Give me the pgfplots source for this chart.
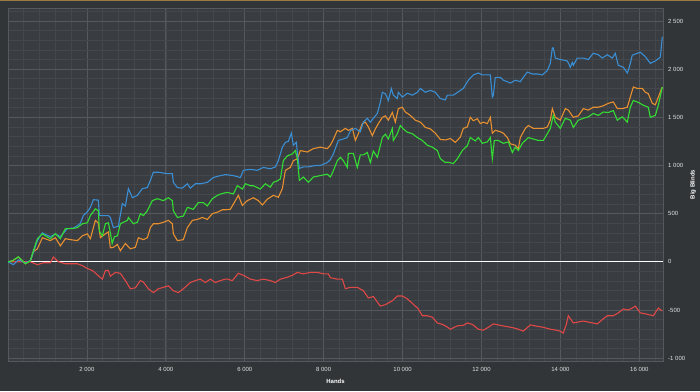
\documentclass[border=0pt]{standalone}
\usepackage{pgfplots}
\pgfplotsset{compat=1.18}
\usepackage{fontspec}
\setmainfont{Liberation Sans}
\definecolor{bgout}{HTML}{323538}
\definecolor{bgin}{HTML}{393C40}
\definecolor{gmaj}{HTML}{55595E}
\definecolor{gmin}{HTML}{44484C}
\definecolor{cblue}{HTML}{3A8ED4}
\definecolor{corange}{HTML}{E8902F}
\definecolor{cgreen}{HTML}{33DD33}
\definecolor{cred}{HTML}{E04848}
\definecolor{ctext}{HTML}{E0E0E0}
\definecolor{ctop}{HTML}{9C7A43}
\begin{document}
\begin{tikzpicture}[x=1bp,y=1bp]
\fill[bgout] (-8,-30) rectangle (692,361);
\useasboundingbox (-8,-30) rectangle (692,361);
\fill[ctop] (-8,359.8) rectangle (692,361);
\begin{axis}[
  at={(0,0)}, anchor=south west,
  scale only axis, width=655bp, height=353bp,
  xmin=0, xmax=16600, ymin=-1030, ymax=2635,
  scaled x ticks=false, scaled y ticks=false,
  axis background/.style={fill=bgin},
  axis line style={gmaj},
  xtick={2000,4000,...,16000},
  xticklabels={2 000,4 000,6 000,8 000,10 000,12 000,14 000,16 000},
  ytick={-1000,-500,0,500,1000,1500,2000,2500},
  yticklabels={-1 000,-500,0,500,1 000,1 500,2 000,2 500},
  minor xtick={0,400,...,16400},
  minor ytick={-1000,-900,...,2600},
  grid=both,
  major grid style={gmaj, line width=0.8bp},
  minor grid style={gmin, line width=0.6bp},
  major tick length=0pt, minor tick length=0pt,
  yticklabel pos=right,
  ticklabel style={font=\fontsize{6}{7}\selectfont, text=ctext, inner sep=0pt},
  xticklabel style={anchor=north, yshift=-6.5bp},
  yticklabel style={anchor=west, xshift=5bp},
  xlabel={Hands}, ylabel={Big Blinds},
  label style={font=\bfseries\fontsize{6}{7}\selectfont, text=white, inner sep=0pt},
  xlabel style={at={(axis description cs:0.5,-0.0567)}, anchor=center},
  ylabel style={at={(axis description cs:1.0458,0.5)}, anchor=center},
]
\addplot[white, line width=1.3bp] coordinates {(0,0) (16600,0)};
\addplot[cred, line width=1.1bp] coordinates {
(0,0) (567,0) (745,-30) (897,-10) (1074,-10) (1150,50) (1277,0) (1454,-20) (1758,-20) (1885,-40) (2012,-70) (2138,-90) (2290,-145) (2392,-180) (2468,-90) (2544,-90) (2594,-150) (2721,-110) (2848,-120) (2975,-195) (3101,-280) (3228,-270) (3355,-195) (3431,-210) (3557,-280) (3684,-320) (3811,-280) (3937,-265) (4064,-250) (4191,-300) (4317,-320) (4444,-280) (4622,-215) (4748,-195) (4875,-180) (5002,-215) (5128,-180) (5255,-215) (5382,-195) (5509,-180) (5559,-180) (5686,-195) (5838,-120) (5965,-140) (6142,-180) (6319,-195) (6471,-180) (6649,-195) (6776,-215) (6902,-180) (7080,-160) (7206,-140) (7333,-110) (7485,-125) (7662,-110) (7840,-110) (7992,-125) (8119,-125) (8169,-165) (8347,-180) (8473,-180) (8549,-280) (8676,-265) (8853,-265) (9005,-300) (9132,-375) (9259,-360) (9436,-460) (9563,-445) (9740,-405) (9867,-355) (9994,-355) (10120,-385) (10272,-440) (10399,-490) (10500,-560) (10627,-560) (10754,-575) (10881,-635) (11007,-650) (11083,-665) (11210,-700) (11388,-665) (11539,-660) (11640,-635) (11767,-650) (11920,-700) (12046,-710) (12173,-680) (12300,-645) (12477,-660) (12604,-670) (12806,-685) (12933,-700) (13060,-720) (13237,-655) (13415,-670) (13567,-680) (13744,-700) (13896,-710) (13997,-720) (14073,-740) (14149,-650) (14200,-560) (14327,-635) (14453,-625) (14580,-615) (14757,-630) (14935,-645) (15062,-600) (15188,-560) (15340,-560) (15467,-530) (15594,-490) (15720,-500) (15822,-480) (15898,-460) (16025,-530) (16151,-540) (16354,-560) (16481,-480) (16582,-510)
};
\addplot[corange, line width=1.1bp] coordinates {
(0,0) (111,10) (263,50) (441,-20) (567,10) (643,105) (745,135) (871,250) (1074,220) (1201,250) (1327,165) (1454,240) (1581,230) (1758,220) (1885,270) (2012,290) (2088,240) (2214,430) (2290,400) (2341,250) (2468,290) (2544,310) (2594,145) (2670,150) (2772,180) (2848,115) (2975,190) (3101,135) (3228,150) (3304,250) (3431,230) (3532,250) (3608,355) (3684,395) (3811,395) (3937,410) (4064,430) (4165,395) (4191,290) (4292,220) (4444,230) (4546,355) (4672,430) (4799,440) (4926,460) (5052,440) (5179,500) (5306,515) (5433,540) (5509,540) (5635,545) (5762,635) (5838,690) (5939,585) (6066,635) (6218,665) (6345,635) (6446,590) (6573,650) (6725,690) (6852,670) (6953,760) (7029,950) (7156,980) (7232,1050) (7333,1070) (7409,1155) (7587,1140) (7738,1175) (7916,1190) (8093,1175) (8169,1210) (8245,1270) (8347,1365) (8423,1350) (8549,1385) (8625,1365) (8727,1385) (8803,1260) (8879,1330) (8980,1435) (9056,1450) (9132,1400) (9233,1310) (9310,1380) (9386,1435) (9487,1500) (9563,1515) (9639,1470) (9740,1550) (9816,1450) (9892,1590) (9994,1605) (10070,1555) (10196,1520) (10323,1470) (10450,1450) (10577,1395) (10703,1380) (10830,1335) (10957,1270) (11083,1265) (11210,1280) (11337,1240) (11463,1295) (11539,1385) (11640,1400) (11717,1500) (11793,1465) (11894,1485) (11970,1435) (12046,1450) (12148,1435) (12224,1500) (12274,1335) (12350,1365) (12477,1350) (12553,1335) (12655,1290) (12731,1225) (12857,1210) (12933,1175) (12984,1290) (13111,1385) (13187,1415) (13313,1385) (13440,1385) (13567,1385) (13668,1400) (13744,1470) (13795,1590) (13871,1500) (13997,1470) (14124,1590) (14200,1575) (14327,1500) (14453,1515) (14580,1590) (14707,1575) (14833,1605) (14960,1605) (15087,1620) (15214,1645) (15340,1660) (15442,1590) (15568,1590) (15695,1605) (15771,1710) (15847,1815) (15949,1800) (16075,1800) (16151,1760) (16227,1745) (16329,1645) (16405,1630) (16481,1710) (16582,1815)
};
\addplot[cblue, line width=1.1bp] coordinates {
(0,0) (136,-30) (263,20) (441,-10) (567,10) (643,100) (745,220) (871,300) (1074,260) (1201,290) (1327,260) (1505,345) (1657,350) (1758,375) (1834,400) (1910,480) (2012,520) (2088,565) (2164,645) (2290,640) (2316,480) (2468,480) (2544,480) (2594,460) (2670,355) (2797,370) (2898,605) (2975,580) (3051,760) (3152,665) (3279,690) (3405,760) (3532,770) (3608,845) (3684,930) (3811,930) (4039,915) (4165,915) (4191,825) (4292,770) (4419,765) (4546,810) (4622,765) (4748,810) (4875,810) (5052,825) (5204,875) (5382,895) (5509,905) (5711,895) (5889,875) (5965,950) (6142,960) (6319,950) (6471,980) (6649,965) (6776,985) (6852,1050) (6953,1190) (7029,1240) (7105,1250) (7181,1335) (7232,1210) (7308,1240) (7333,1135) (7384,970) (7485,985) (7612,985) (7789,1000) (7916,1000) (8093,1030) (8169,1060) (8245,1120) (8372,1260) (8499,1275) (8600,1290) (8676,1360) (8803,1385) (8929,1350) (9005,1450) (9107,1490) (9183,1450) (9259,1490) (9360,1540) (9436,1655) (9487,1760) (9563,1745) (9639,1675) (9715,1800) (9765,1730) (9867,1695) (9892,1760) (9994,1710) (10120,1750) (10247,1730) (10374,1760) (10450,1800) (10577,1760) (10703,1780) (10830,1760) (10957,1695) (11083,1680) (11134,1730) (11287,1730) (11413,1765) (11539,1800) (11666,1885) (11793,1940) (11920,1960) (12021,1940) (12148,1940) (12224,1940) (12274,1710) (12300,1730) (12350,1915) (12477,1915) (12553,1885) (12655,1870) (12731,1855) (12857,1885) (12984,1870) (13060,1915) (13161,1970) (13288,1950) (13415,1950) (13541,1940) (13668,1985) (13744,2060) (13795,2220) (13820,2220) (13871,2115) (13997,2100) (14175,2085) (14251,2020) (14301,2070) (14327,2040) (14428,2115) (14580,2115) (14707,2100) (14833,2165) (14960,2150) (15062,2115) (15188,2150) (15315,2115) (15391,2165) (15467,2040) (15594,2020) (15695,1960) (15746,2020) (15822,2145) (15949,2165) (16025,2175) (16151,2130) (16278,2060) (16405,2085) (16532,2125) (16582,2335)
};
\addplot[cgreen, line width=1.1bp] coordinates {
(0,0) (111,10) (263,52) (441,-20) (567,10) (643,115) (745,240) (871,290) (947,270) (1074,240) (1201,290) (1327,240) (1454,345) (1632,345) (1758,355) (1885,395) (2012,405) (2088,480) (2214,550) (2290,530) (2316,320) (2392,270) (2468,395) (2544,405) (2594,300) (2640,190) (2696,260) (2772,270) (2848,395) (3025,430) (3051,460) (3177,395) (3279,410) (3355,500) (3431,480) (3532,530) (3659,635) (3785,655) (3937,635) (4064,665) (4165,635) (4191,530) (4292,460) (4444,475) (4546,565) (4697,545) (4824,615) (4951,615) (5052,580) (5179,655) (5306,690) (5433,710) (5559,720) (5711,705) (5813,790) (5939,755) (6015,810) (6142,790) (6218,790) (6395,755) (6522,810) (6649,775) (6725,825) (6826,840) (6902,860) (6978,1050) (7080,1100) (7206,1120) (7282,1155) (7333,1070) (7384,845) (7485,880) (7612,825) (7738,880) (7916,895) (8093,910) (8169,880) (8245,945) (8347,1050) (8423,1085) (8499,1050) (8600,980) (8625,1125) (8752,1125) (8853,980) (8929,1110) (9005,1110) (9107,1135) (9183,1030) (9259,1150) (9360,1085) (9487,1290) (9563,1325) (9639,1275) (9740,1385) (9765,1260) (9867,1330) (9943,1415) (10019,1380) (10120,1345) (10247,1330) (10374,1290) (10500,1260) (10627,1210) (10754,1190) (10881,1155) (10957,1070) (11083,1030) (11134,1035) (11287,1020) (11388,1070) (11514,1155) (11640,1205) (11717,1290) (11843,1255) (11920,1290) (12021,1230) (12148,1245) (12224,1290) (12274,1070) (12325,1260) (12426,1260) (12553,1230) (12680,1245) (12781,1135) (12857,1190) (12933,1155) (13034,1230) (13111,1260) (13187,1290) (13313,1275) (13440,1260) (13567,1260) (13668,1330) (13744,1385) (13820,1520) (13871,1450) (13997,1385) (14124,1490) (14251,1470) (14327,1395) (14453,1470) (14580,1490) (14707,1505) (14833,1540) (14960,1520) (15087,1555) (15214,1550) (15340,1570) (15442,1470) (15568,1505) (15695,1450) (15771,1605) (15847,1675) (15974,1655) (16101,1625) (16227,1605) (16278,1500) (16405,1520) (16481,1625) (16582,1815)
};
\end{axis}
\end{tikzpicture}
\end{document}
